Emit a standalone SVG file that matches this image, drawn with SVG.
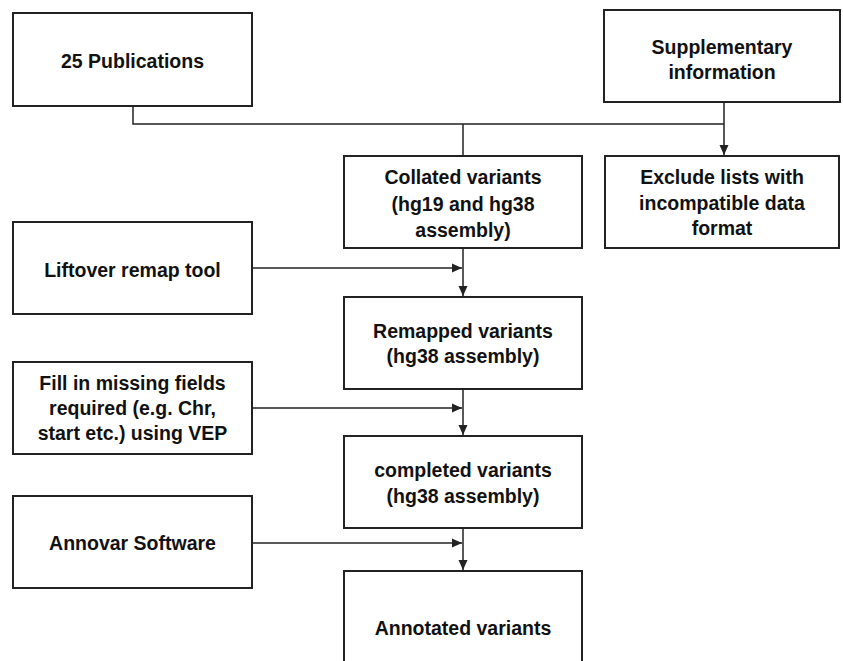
<svg xmlns="http://www.w3.org/2000/svg" width="843" height="661" viewBox="0 0 843 661">
<style>
.box{fill:#fff;stroke:#222;stroke-width:2}
.t{font-family:"Liberation Sans",Arial,sans-serif;font-weight:bold;font-size:19.5px;fill:#111;text-anchor:middle;dominant-baseline:central}
.c{fill:none;stroke:#222;stroke-width:1.5}
</style>
<defs>
<marker id="ah" viewBox="0 0 10 10" refX="10" refY="5" markerWidth="10" markerHeight="10" markerUnits="userSpaceOnUse" orient="auto">
<path d="M0,0.5 L10,5 L0,9.5 Z" fill="#222"/>
</marker>
</defs>
<rect width="843" height="661" fill="#fff"/>
<g id="connectors">
<path class="c" d="M133,106 V124 H724"/>
<path class="c" d="M724,102 V155" marker-end="url(#ah)"/>
<path class="c" d="M463,124 V156"/>
<path class="c" d="M463,248 V296" marker-end="url(#ah)"/>
<path class="c" d="M252,268 H462" marker-end="url(#ah)"/>
<path class="c" d="M463,389 V435" marker-end="url(#ah)"/>
<path class="c" d="M252,408 H462" marker-end="url(#ah)"/>
<path class="c" d="M463,528 V570" marker-end="url(#ah)"/>
<path class="c" d="M252,543 H462" marker-end="url(#ah)"/>
</g>
<g id="publications">
<rect class="box" x="13" y="13" width="239" height="93"/>
<text class="t" x="132.5" y="61">25 Publications</text>
</g>
<g id="supplementary">
<rect class="box" x="604" y="10" width="236" height="92"/>
<text class="t" x="722" y="47">Supplementary</text>
<text class="t" x="722" y="72">information</text>
</g>
<g id="collated">
<rect class="box" x="344" y="156" width="238" height="92"/>
<text class="t" x="463" y="177">Collated variants</text>
<text class="t" x="463" y="204">(hg19 and hg38</text>
<text class="t" x="463" y="230">assembly)</text>
</g>
<g id="exclude">
<rect class="box" x="605" y="156" width="234" height="92"/>
<text class="t" x="722" y="177">Exclude lists with</text>
<text class="t" x="722" y="203">incompatible data</text>
<text class="t" x="722" y="228">format</text>
</g>
<g id="liftover">
<rect class="box" x="13" y="222" width="239" height="92"/>
<text class="t" x="132.5" y="270">Liftover remap tool</text>
</g>
<g id="remapped">
<rect class="box" x="344" y="297" width="238" height="92"/>
<text class="t" x="463" y="331">Remapped variants</text>
<text class="t" x="463" y="356">(hg38 assembly)</text>
</g>
<g id="fillin">
<rect class="box" x="13" y="362" width="239" height="92"/>
<text class="t" x="132.5" y="383">Fill in missing fields</text>
<text class="t" x="132.5" y="408">required (e.g. Chr,</text>
<text class="t" x="132.5" y="433">start etc.) using VEP</text>
</g>
<g id="completed">
<rect class="box" x="344" y="436" width="238" height="92"/>
<text class="t" x="463" y="470">completed variants</text>
<text class="t" x="463" y="496">(hg38 assembly)</text>
</g>
<g id="annovar">
<rect class="box" x="13" y="496" width="239" height="92"/>
<text class="t" x="132.5" y="543">Annovar Software</text>
</g>
<g id="annotated">
<rect class="box" x="344" y="571" width="238" height="100"/>
<text class="t" x="463" y="628">Annotated variants</text>
</g>
</svg>
